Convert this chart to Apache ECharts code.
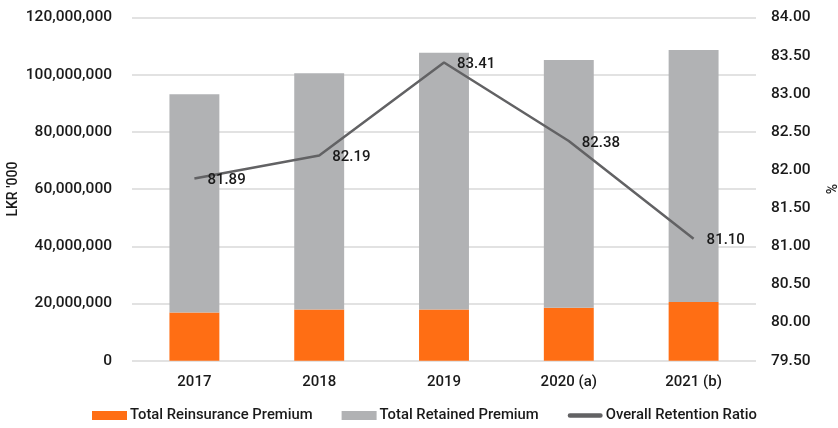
<!DOCTYPE html>
<html>
<head>
<meta charset="utf-8">
<script src="https://cdn.jsdelivr.net/npm/echarts@6/dist/echarts.min.js"></script>
<style>
  html, body { margin: 0; padding: 0; background: #ffffff; }
  #chart { width: 838px; height: 428px; }
</style>
</head>
<body>
<div id="chart"></div>
<script>
// Premium split by year (LKR '000) and the overall retention ratio (%)
const years = ['2017', '2018', '2019', '2020 (a)', '2021 (b)'];
const reinsurancePremium = [16870000, 17900000, 17870000, 18520000, 20530000];
const retainedPremium = [76280000, 82600000, 89830000, 86580000, 88070000];
const retentionRatio = [81.89, 82.19, 83.41, 82.38, 81.10];

const FONT = 'Roboto, "Noto Sans", sans-serif';
const TEXT = '#1a1a1a';
const WEIGHT = 500;
const LINE_COLOR = '#626264';

// thick rounded bar used as the legend key of the ratio line
const LINE_KEY = 'path://M2.5,0 L36.5,0 A2.5,2.5 0 0 1 36.5,5 L2.5,5 A2.5,2.5 0 0 1 2.5,0 Z';

const chart = echarts.init(document.getElementById('chart'), null, { renderer: 'canvas' });

chart.setOption({
  animation: false,
  backgroundColor: '#ffffff',
  textStyle: { fontFamily: FONT },
  grid: {
    left: 132, right: 82, top: 17.5, bottom: 67.3,
    containLabel: false,
    outerBoundsMode: 'none'
  },
  legend: {
    left: 92,
    top: 408,
    padding: 0,
    itemWidth: 35,
    itemHeight: 9,
    itemGap: 29,
    textStyle: { fontFamily: FONT, fontSize: 14.8, fontWeight: WEIGHT, color: TEXT, padding: [0, 0, 0, -2] },
    data: [
      { name: 'Total Reinsurance Premium', icon: 'rect' },
      { name: 'Total Retained Premium', icon: 'rect' },
      { name: 'Overall Retention Ratio', icon: LINE_KEY, itemStyle: { color: LINE_COLOR } }
    ]
  },
  xAxis: {
    type: 'category',
    data: years,
    axisLine: { show: false },
    axisTick: { show: false },
    axisLabel: { fontFamily: FONT, fontSize: 15, fontWeight: WEIGHT, color: TEXT, margin: 14 }
  },
  yAxis: [
    {
      type: 'value',
      min: 0,
      max: 120000000,
      interval: 20000000,
      name: "LKR '000",
      nameLocation: 'middle',
      nameRotate: 90,
      nameGap: 112,
      nameMoveOverlap: false,
      nameTextStyle: { fontFamily: FONT, fontSize: 14, fontWeight: WEIGHT, color: TEXT },
      axisLine: { show: false },
      axisTick: { show: false },
      splitLine: { lineStyle: { color: '#d9d9d9', width: 1.5 } },
      axisLabel: {
        fontFamily: FONT, fontSize: 15.5, fontWeight: WEIGHT, color: TEXT, margin: 20,
        formatter: v => v.toLocaleString('en-US')
      }
    },
    {
      type: 'value',
      min: 79.5,
      max: 84,
      interval: 0.5,
      name: '%',
      nameLocation: 'middle',
      nameRotate: 90,
      nameGap: 70,
      nameMoveOverlap: false,
      nameTextStyle: { fontFamily: FONT, fontSize: 14, fontWeight: WEIGHT, color: TEXT },
      axisLine: { show: false },
      axisTick: { show: false },
      splitLine: { show: false },
      axisLabel: {
        fontFamily: FONT, fontSize: 15.5, fontWeight: WEIGHT, color: TEXT, margin: 15,
        formatter: v => v.toFixed(2)
      }
    }
  ],
  series: [
    {
      name: 'Total Reinsurance Premium',
      type: 'bar',
      stack: 'premium',
      barWidth: '40%',
      itemStyle: { color: '#ff6e14' },
      data: reinsurancePremium
    },
    {
      name: 'Total Retained Premium',
      type: 'bar',
      stack: 'premium',
      barWidth: '40%',
      itemStyle: { color: '#b1b2b4' },
      data: retainedPremium
    },
    {
      name: 'Overall Retention Ratio',
      type: 'line',
      yAxisIndex: 1,
      symbol: 'circle',
      symbolSize: 0,
      showSymbol: true,
      lineStyle: { color: LINE_COLOR, width: 2.5 },
      itemStyle: { color: LINE_COLOR },
      label: {
        show: true,
        position: 'right',
        distance: 13,
        offset: [0, 2],
        fontFamily: FONT,
        fontSize: 15,
        fontWeight: WEIGHT,
        color: TEXT,
        formatter: p => p.value.toFixed(2)
      },
      data: retentionRatio
    }
  ]
});
</script>
</body>
</html>
